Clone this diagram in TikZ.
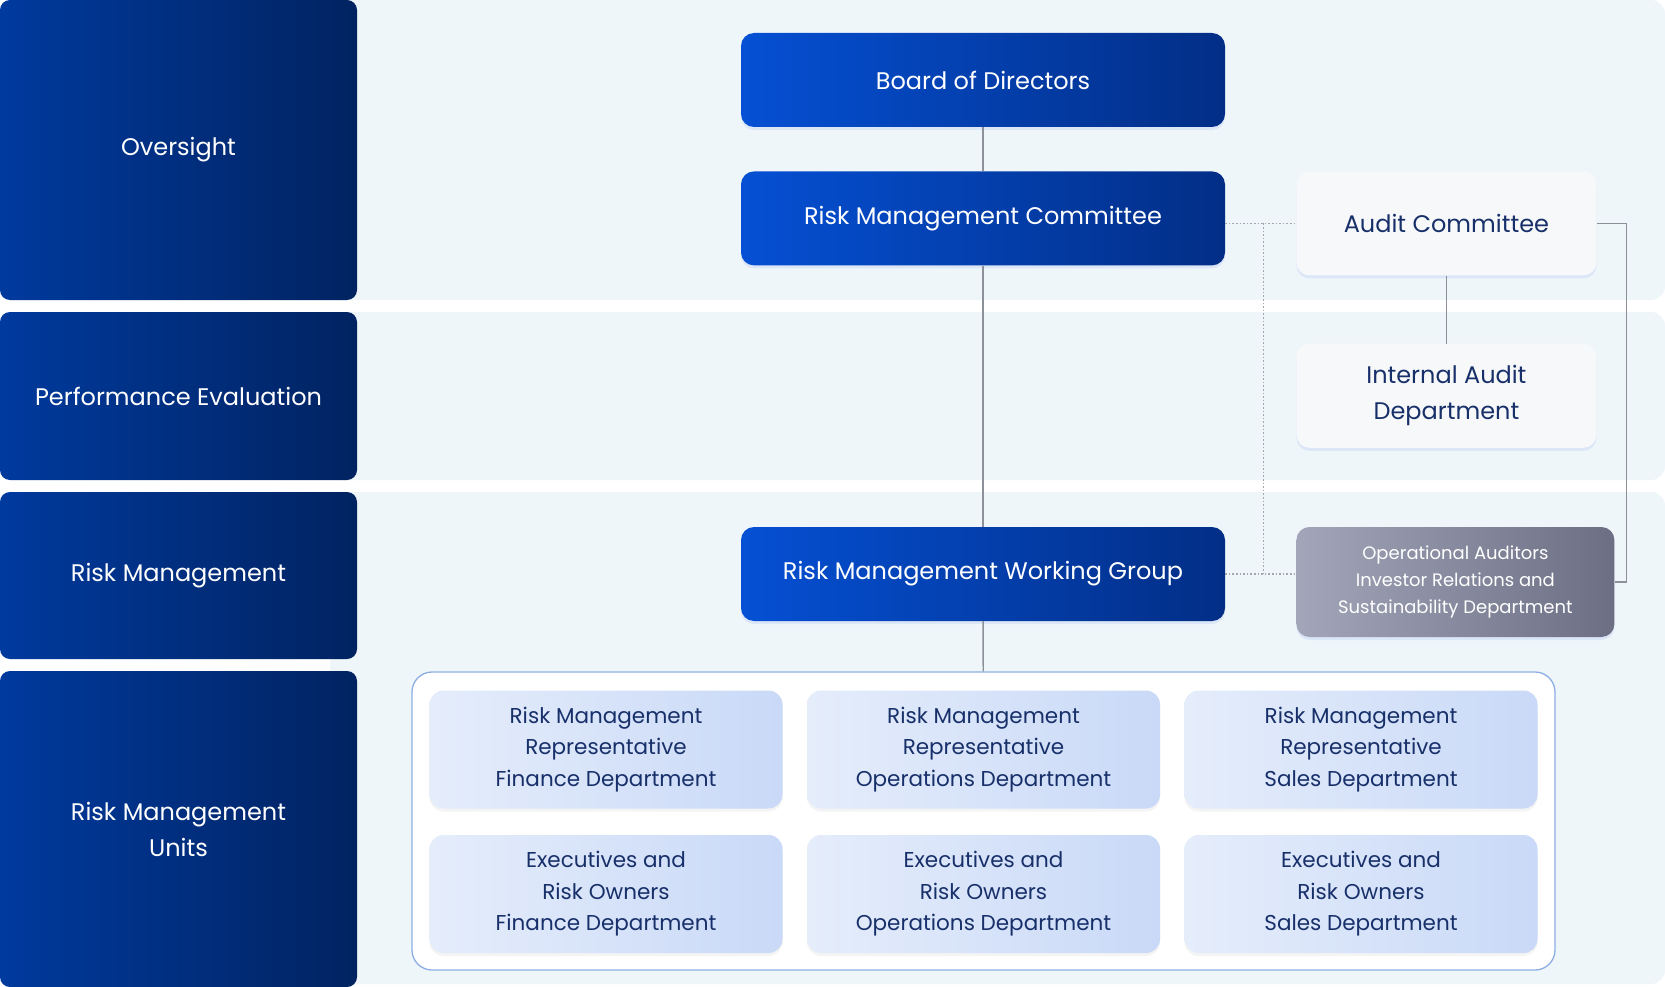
\documentclass[tikz,border=0pt]{standalone}
\usepackage{fontspec}
\setmainfont{Poppins}
\usetikzlibrary{positioning,shadows}
\definecolor{lanedark}{HTML}{012361}
\definecolor{lanelite}{HTML}{003A9E}
\definecolor{leadlite}{HTML}{0550D4}
\definecolor{leaddark}{HTML}{022E86}
\definecolor{bandbg}{HTML}{EFF6FA}
\definecolor{navytext}{HTML}{18306A}
\definecolor{auditbg}{HTML}{F7F8FA}
\definecolor{extlite}{HTML}{A3A6B9}
\definecolor{extdark}{HTML}{6C6F84}
\definecolor{unitlite}{HTML}{E5EDFB}
\definecolor{unitdark}{HTML}{C9D9F7}
\definecolor{frame}{HTML}{8DAEE2}
\definecolor{linegray}{HTML}{8C9099}
\definecolor{glow}{HTML}{C8D8F6}
\tikzset{
  band/.style={fill=bandbg,rounded corners=14pt},
  lane/.style={left color=lanelite,right color=lanedark,rounded corners=10pt,
               minimum width=357pt,inner sep=0pt,text=white,align=center,
               font=\fontsize{24}{36}\selectfont},
  lead/.style={left color=leadlite,right color=leaddark,rounded corners=13pt,
               minimum width=484pt,minimum height=94pt,inner sep=0pt,text=white,
               font=\fontsize{24}{30}\selectfont,
               drop shadow={shadow xshift=0pt,shadow yshift=-3pt,fill=glow,opacity=.5}},
  audit/.style={fill=auditbg,rounded corners=13pt,minimum width=300pt,
                minimum height=104pt,inner sep=0pt,text=navytext,align=center,
                font=\fontsize{24}{36}\selectfont,
                drop shadow={shadow xshift=0pt,shadow yshift=-3pt,fill=glow,opacity=.5}},
  ext/.style={left color=extlite,right color=extdark,rounded corners=13pt,
              minimum width=318pt,minimum height=110pt,inner sep=0pt,text=white,
              align=center,font=\fontsize{18}{27}\selectfont,
              drop shadow={shadow xshift=0pt,shadow yshift=-3pt,fill=glow,opacity=.5}},
  unitbox/.style={left color=unitlite,right color=unitdark,rounded corners=14pt,
                  minimum width=353pt,minimum height=118pt,inner sep=0pt,
                  text=navytext,align=center,font=\fontsize{21.5}{31.5}\selectfont,
                  drop shadow={shadow xshift=0pt,shadow yshift=-3pt,fill=black!8,opacity=.5}},
  link/.style={draw=linegray,line width=1.4pt},
  dotlink/.style={draw=linegray!80,line width=1.3pt,dash pattern=on 1.6pt off 2pt}
}
\begin{document}
\begin{tikzpicture}[x=1pt,y=-1pt]
\useasboundingbox[fill=white] (0,0) rectangle (1665,987);
% background bands
\fill[band] (330,0) rectangle (1665,300);
\fill[band] (330,312) rectangle (1665,480);
\fill[band] (330,492) rectangle (1665,984);
% lanes
\node[lane,minimum height=300pt] (oversight) at (178.5,150) {Oversight};
\node[lane,minimum height=168pt] (perf) at (178.5,396) {Performance Evaluation};
\node[lane,minimum height=167pt] (riskmgmt) at (178.5,575.5) {Risk Management};
\node[lane,minimum height=316pt] (unitlane) at (178.5,829) {Risk Management\\Units};
% main column
\node[lead] (board) at (983,80) {Board of Directors};
\node[lead,below=44pt of board] (rmc) {Risk Management Committee};
\node[lead] (rmwg) at (983,574) {Risk Management Working Group};
\node[audit,right=71pt of rmc.north east,anchor=north west] (audit) {Audit Committee};
\node[audit,below=68pt of audit] (intaudit) {Internal Audit\\Department};
\node[ext,anchor=north west] (opaud) at ([xshift=71pt]rmwg.north east)
  {Operational Auditors\\Investor Relations and\\Sustainability Department};
% units
\node[draw=frame,line width=1.3pt,fill=white,rounded corners=20pt,
      minimum width=1143pt,minimum height=298pt] (units) at (983.5,821) {};
\foreach \col/\dept [count=\i] in {606/Finance,983.5/Operations,1361/Sales}{
  \node[unitbox] (rep\i) at (\col,749.5) {Risk Management\\Representative\\\dept{} Department};
  \node[unitbox] (exe\i) at (\col,894) {Executives and\\Risk Owners\\\dept{} Department};
}
% connectors
\draw[link] (board) -- (rmc);
\draw[link] (rmc) -- (rmwg);
\draw[link] (rmwg) -- (units);
\draw[link] (audit) -- (intaudit);
\draw[link] (audit.east) -- ++(30pt,0) |- (opaud.east);
\coordinate (tap) at ([xshift=38pt]rmc.east |- audit.west);
\draw[dotlink] (rmc.east |- audit.west) -- (audit.west);
\draw[dotlink] (tap) -- (tap |- rmwg.east);
\draw[dotlink] (rmwg.east) -- (rmwg.east -| opaud.west);
\end{tikzpicture}
\end{document}
